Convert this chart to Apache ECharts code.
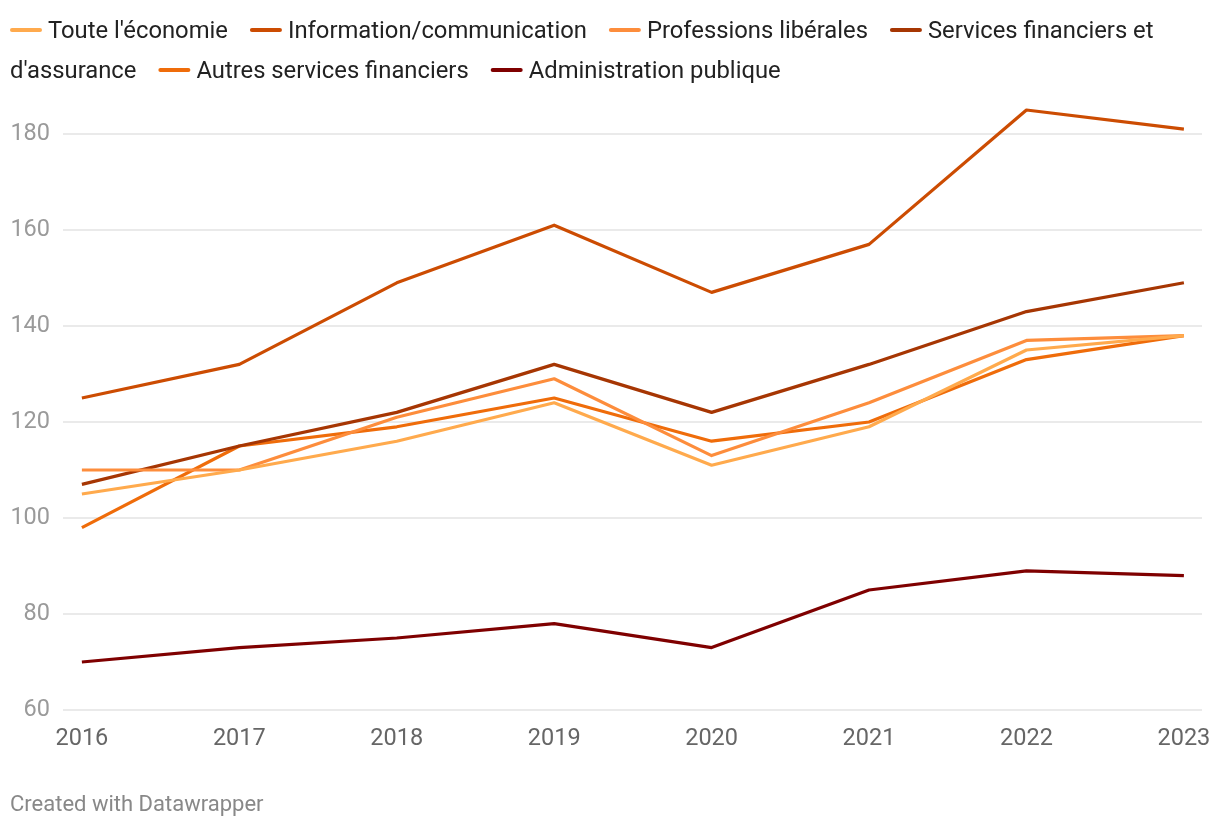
<!DOCTYPE html>
<html>
<head>
<meta charset="utf-8">
<script src="https://cdn.jsdelivr.net/npm/echarts@6/dist/echarts.min.js"></script>
<style>
html,body{margin:0;padding:0;background:#fff;}
#chart{width:1220px;height:826px;}
</style>
</head>
<body>
<div id="chart"></div>
<script>
var years = [2016, 2017, 2018, 2019, 2020, 2021, 2022, 2023];
var yTicks = [60, 80, 100, 120, 140, 160, 180];
var seriesNames = ["Toute l'économie", "Information/communication", "Professions libérales", "Services financiers et d'assurance", "Autres services financiers", "Administration publique"];
var touteEconomie = [105, 110, 116, 124, 111, 119, 135, 138];
var informationCommunication = [125, 132, 149, 161, 147, 157, 185, 181];
var professionsLiberales = [110, 110, 121, 129, 113, 124, 137, 138];
var servicesFinanciers = [107, 115, 122, 132, 122, 132, 143, 149];
var autresServicesFinanciers = [98, 115, 119, 125, 116, 120, 133, 138];
var administrationPublique = [70, 73, 75, 78, 73, 85, 89, 88];
var seriesValues = [touteEconomie, informationCommunication, professionsLiberales, servicesFinanciers, autresServicesFinanciers, administrationPublique];
var colors = ["#ffaa4d", "#cc4c02", "#fd8d3c", "#a63603", "#ef6c0a", "#7f0000"];

var FONT = "Roboto, 'Noto Sans', sans-serif";
var LEG_FS = 23.8;

var chart = echarts.init(document.getElementById('chart'), null, {renderer: 'canvas'});

var ctx = document.createElement('canvas').getContext('2d');
ctx.font = LEG_FS + "px Roboto";
function tw(s){ return ctx.measureText(s).width; }
var graphics = [];
var x = 10, rowY = 30, maxX = 1210, rowH = 40, textDy = 2;
seriesNames.forEach(function(name, i){
  if (x + 38 + tw(seriesNames[i].split(' ')[0]) > maxX) { x = 10; rowY += rowH; }
  graphics.push({type:'line', shape:{x1:x+2, y1:rowY, x2:x+30, y2:rowY}, style:{stroke:colors[i], lineWidth:4, lineCap:'round'}});
  var tx = x + 38;
  var words = name.split(' ');
  var line = '';
  var k = 0;
  while (k < words.length) {
    var cand = line ? line + ' ' + words[k] : words[k];
    if (tx + tw(cand) > maxX && line) {
      graphics.push({type:'text', x:tx, y:rowY + textDy, style:{text:line, font:LEG_FS + "px " + FONT, fill:'#222', verticalAlign:'middle', align:'left'}});
      rowY += rowH; tx = 10; line = '';
      continue;
    }
    line = cand; k++;
  }
  graphics.push({type:'text', x:tx, y:rowY + textDy, style:{text:line, font:LEG_FS + "px " + FONT, fill:'#222', verticalAlign:'middle', align:'left'}});
  x = tx + tw(line) + 22;
});
graphics.push({type:'text', x:10, y:805, style:{text:'Created with Datawrapper', font:"22px " + FONT, fill:'#888', verticalAlign:'middle', align:'left'}});

var option = {
  backgroundColor: '#fff',
  animation: false,
  grid: {left: 63, right: 18, top: 134, bottom: 116, containLabel: false},
  xAxis: {
    type: 'value',
    min: 2015.88,
    max: 2023.115,
    axisLine: {show: false},
    axisTick: {show: false},
    splitLine: {show: false},
    axisLabel: {
      customValues: years,
      color: '#666',
      fontSize: 23.5,
      fontFamily: FONT,
      margin: 17,
      formatter: function(v){ return String(v); }
    }
  },
  yAxis: {
    type: 'value',
    min: 60,
    max: 180,
    interval: 20,
    axisLine: {show: false},
    axisTick: {show: false},
    splitLine: {lineStyle: {color: '#e3e3e3', width: 1.5}},
    axisLabel: {color: '#9a9a9a', fontSize: 23.5, fontFamily: FONT, margin: 13}
  },
  series: seriesNames.map(function(name, i){
    return {
      name: name,
      type: 'line',
      clip: false,
      symbol: 'none',
      lineStyle: {color: colors[i], width: 3.2, join: 'round'},
      data: years.map(function(y, j){ return [y, seriesValues[i][j]]; }),
      z: 10 - i
    };
  }),
  graphic: graphics
};
chart.setOption(option);
</script>
</body>
</html>
